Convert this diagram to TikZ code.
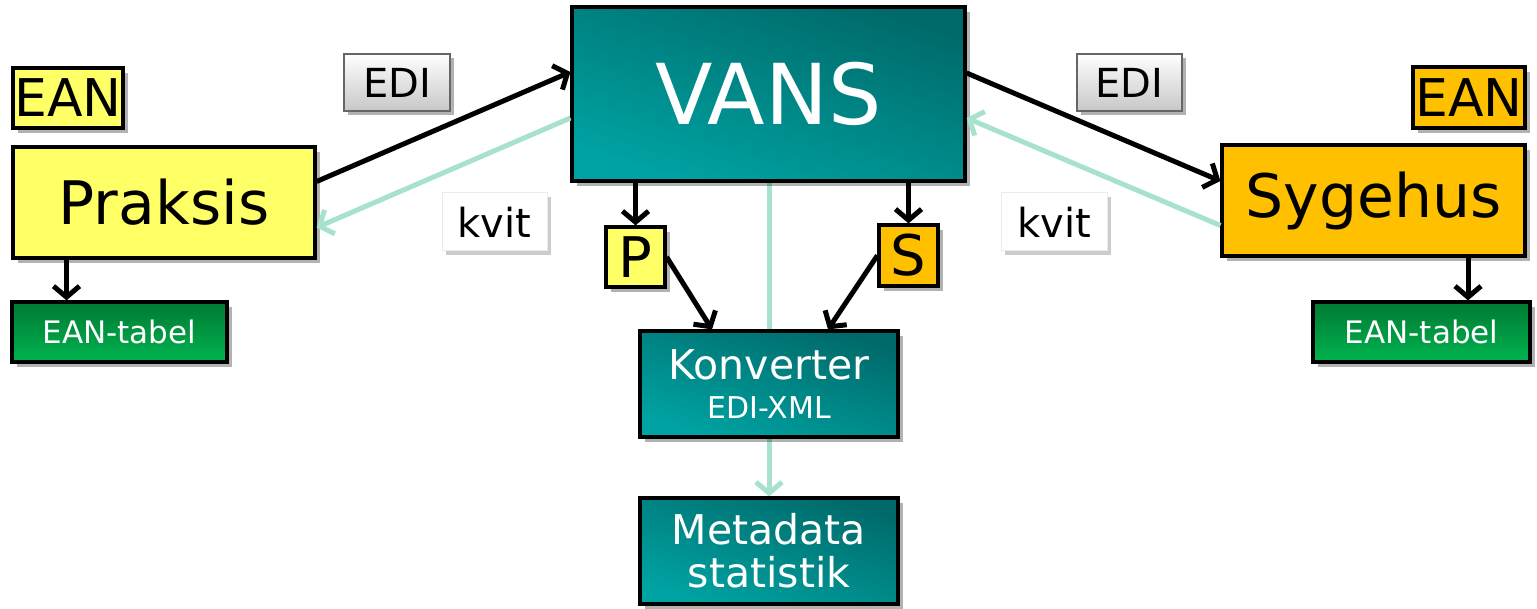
\documentclass[tikz,border=0pt]{standalone}
\usepackage{fontspec}
\setmainfont{DejaVu Sans}
\usetikzlibrary{arrows.meta,shadows,calc,backgrounds}
\definecolor{yel}{HTML}{FFFF66}
\definecolor{ora}{HTML}{FFC000}
\definecolor{tdark}{HTML}{006A6A}
\definecolor{tlight}{HTML}{00A3A3}
\definecolor{gdark}{HTML}{007A33}
\definecolor{glight}{HTML}{00B34F}
\definecolor{kv}{HTML}{A8E2CC}
\newcommand{\fs}[1]{\fontsize{#1}{#1}\selectfont}
\tikzset{
  box/.style={draw=black, line width=3.2pt, inner sep=0pt, align=center,
    drop shadow={shadow xshift=5pt, shadow yshift=-5pt, opacity=0.3, fill=black}},
  yelbox/.style={box, fill=yel},
  orabox/.style={box, fill=ora},
  tealbox/.style={box, top color=tdark, bottom color=tlight, shading angle=-18, text=white},
  greenbox/.style={box, top color=gdark, bottom color=glight, text=white},
  edibox/.style={draw=black!60, line width=1.2pt, inner sep=0pt, top color=white, bottom color=black!22,
    drop shadow={shadow xshift=4pt, shadow yshift=-4pt, opacity=0.3, fill=black}},
  kvitbox/.style={draw=black!8, line width=1pt, inner sep=0pt, fill=white,
    drop shadow={shadow xshift=4pt, shadow yshift=-4pt, opacity=0.2, fill=black}},
  blk/.style={draw=black, line width=5pt, -{Straight Barb[length=11pt,width=26pt,line width=5pt]}},
  grn/.style={draw=kv, line width=5pt, -{Straight Barb[length=11pt,width=26pt,line width=5pt]}}
}
\begin{document}
\begin{tikzpicture}[x=1pt,y=-1pt]
\useasboundingbox (0,0) rectangle (1537,609);
% nodes
\node[tealbox, minimum width=393pt, minimum height=174pt, font=\fs{84}] (vans) at (768.5,94) {VANS};
\node[yelbox, minimum width=110pt, minimum height=60pt, font=\fs{52}] (eanL) at (68,98) {EAN};
\node[yelbox, minimum width=302pt, minimum height=111pt, font=\fs{60}] (praksis) at (164,202.5) {Praksis};
\node[greenbox, minimum width=215pt, minimum height=60pt, font=\fs{31}] (tabL) at (119.5,332) {EAN-tabel};
\node[orabox, minimum width=112pt, minimum height=61pt, font=\fs{52}] (eanR) at (1469,97.5) {EAN};
\node[orabox, minimum width=303pt, minimum height=111pt, font=\fs{60}] (sygehus) at (1373.5,200.5) {Sygehus};
\node[greenbox, minimum width=217pt, minimum height=60pt, font=\fs{31}] (tabR) at (1421.5,332) {EAN-tabel};
\node[edibox, minimum width=106pt, minimum height=57pt, font=\fs{40}] (ediL) at (397,82.5) {EDI};
\node[edibox, minimum width=105pt, minimum height=57pt, font=\fs{40}] (ediR) at (1129.5,82.5) {EDI};
\node[kvitbox, minimum width=105pt, minimum height=58pt, font=\fs{40}] (kvitL) at (494.5,222) {kvit};
\node[kvitbox, minimum width=106pt, minimum height=58pt, font=\fs{40}] (kvitR) at (1054,222) {kvit};
\node[yelbox, minimum width=59pt, minimum height=60pt, font=\fs{56}] (p) at (635.5,257) {P};
\node[orabox, minimum width=59pt, minimum height=61pt, font=\fs{56}] (s) at (908.5,255.5) {S};
\node[tealbox, minimum width=258pt, minimum height=106pt, font=\fs{41}] (konv) at (769,384)
  {Konverter\\[-2pt]{\fs{30}EDI-XML}};
\node[tealbox, minimum width=258pt, minimum height=106pt, font=\fs{41}] (meta) at (769,551)
  {Metadata\\[2pt]statistik};
% connectors
\begin{scope}[on background layer]
\draw[grn] (vans.south -| meta.north) -- (meta.north);
\end{scope}
\draw[blk] ([yshift=21pt]praksis.east) -- ([yshift=22pt]vans.west);
\draw[grn] ([yshift=-24pt]vans.west) -- ([yshift=-25pt]praksis.east);
\draw[blk] ([yshift=21pt]vans.east) -- ([yshift=19.5pt]sygehus.west);
\draw[grn] ([yshift=-25pt]sygehus.west) -- ([yshift=-24pt]vans.east);
\draw[blk] (p.north |- vans.south) -- (p.north);
\draw[blk] (s.north |- vans.south) -- (s.north);
\draw[blk] (p.east) -- ([xshift=-57pt]konv.north);
\draw[blk] (s.west) -- ([xshift=59pt]konv.north);
\coordinate (tl) at ([xshift=-53pt]tabL.north);
\coordinate (tr) at ([xshift=46.5pt]tabR.north);
\draw[blk] (tl |- praksis.south) -- (tl);
\draw[blk] (tr |- sygehus.south) -- (tr);
\end{tikzpicture}
\end{document}
